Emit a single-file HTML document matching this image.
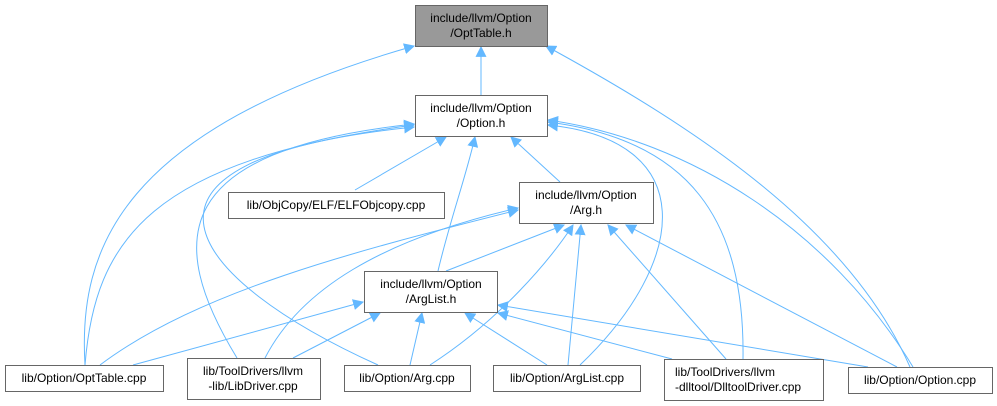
<!DOCTYPE html>
<html><head><meta charset="utf-8"><style>
html,body{margin:0;padding:0;background:#fff;}
svg{display:block;}
text{font-family:"Liberation Sans",Arial,sans-serif;font-size:12px;fill:#000;}
</style></head><body>
<svg width="997" height="406" viewBox="0 0 997 406" xmlns="http://www.w3.org/2000/svg">
<defs>
<marker id="a" viewBox="0 0 10 10" refX="9" refY="5" markerWidth="11" markerHeight="11" markerUnits="userSpaceOnUse" orient="auto">
<path d="M0,0 L10,5 L0,10 z" fill="#63b8ff"/>
</marker>
</defs>
<g fill="none" stroke="#63b8ff" stroke-width="1" marker-end="url(#a)">
<path d="M481,95 L481,47"/>
<path d="M85,365 C78,250 120,130 414,46"/>
<path d="M910,367 C850,230 700,130 546,46"/>
<path d="M355,190 L446,137"/>
<path d="M560,182 L511,137"/>
<path d="M438,271 C450,220 465,180 475,137"/>
<path d="M85,365 C95,240 150,160 414,125"/>
<path d="M237,358 C165,240 170,150 414,124"/>
<path d="M378,365 C190,280 90,160 414,127"/>
<path d="M580,365 C690,260 700,140 548,125"/>
<path d="M743,359 C745,220 690,140 548,122"/>
<path d="M913,367 C830,230 690,140 548,120"/>
<path d="M446,271 L564,225"/>
<path d="M100,365 C200,290 360,250 518,210"/>
<path d="M265,358 C300,290 380,240 518,208"/>
<path d="M430,365 C500,320 550,260 573,225"/>
<path d="M568,365 L581,225"/>
<path d="M726,359 L608,225"/>
<path d="M897,367 L626,225"/>
<path d="M133,365 L363,302"/>
<path d="M293,358 L380,313"/>
<path d="M410,365 L422,313"/>
<path d="M547,365 L465,313"/>
<path d="M672,359 L498,313"/>
<path d="M868,367 L498,305"/>
</g>
<g stroke="#666" stroke-width="1">
<rect x="415.5" y="5.5" width="132" height="41" fill="#999"/>
<rect x="415.5" y="95.5" width="132" height="41" fill="#fff"/>
<rect x="228.5" y="192.5" width="216" height="26" fill="#fff"/>
<rect x="519.5" y="182.5" width="134" height="41" fill="#fff"/>
<rect x="364.5" y="271.5" width="133" height="41" fill="#fff"/>
<rect x="5.5" y="365.5" width="158" height="26" fill="#fff"/>
<rect x="187.5" y="358.5" width="133" height="41" fill="#fff"/>
<rect x="344.5" y="365.5" width="126" height="26" fill="#fff"/>
<rect x="493.5" y="365.5" width="147" height="26" fill="#fff"/>
<rect x="664.5" y="359.5" width="159" height="41" fill="#fff"/>
<rect x="848.5" y="367.5" width="144" height="26" fill="#fff"/>
</g>
<g text-anchor="middle">
<text x="481" y="22">include/llvm/Option</text>
<text x="481" y="37">/OptTable.h</text>
<text x="481" y="112">include/llvm/Option</text>
<text x="481" y="127">/Option.h</text>
<text x="336" y="209">lib/ObjCopy/ELF/ELFObjcopy.cpp</text>
<text x="586" y="199">include/llvm/Option</text>
<text x="586" y="214">/Arg.h</text>
<text x="431" y="288">include/llvm/Option</text>
<text x="431" y="303">/ArgList.h</text>
<text x="84" y="382">lib/Option/OptTable.cpp</text>
<text x="253" y="375">lib/ToolDrivers/llvm</text>
<text x="253" y="390">-lib/LibDriver.cpp</text>
<text x="407" y="382">lib/Option/Arg.cpp</text>
<text x="567" y="382">lib/Option/ArgList.cpp</text>
<text x="920" y="384">lib/Option/Option.cpp</text>
</g>
<text x="675" y="376">lib/ToolDrivers/llvm</text>
<text x="675" y="391">-dlltool/DlltoolDriver.cpp</text>
</svg>
</body></html>
